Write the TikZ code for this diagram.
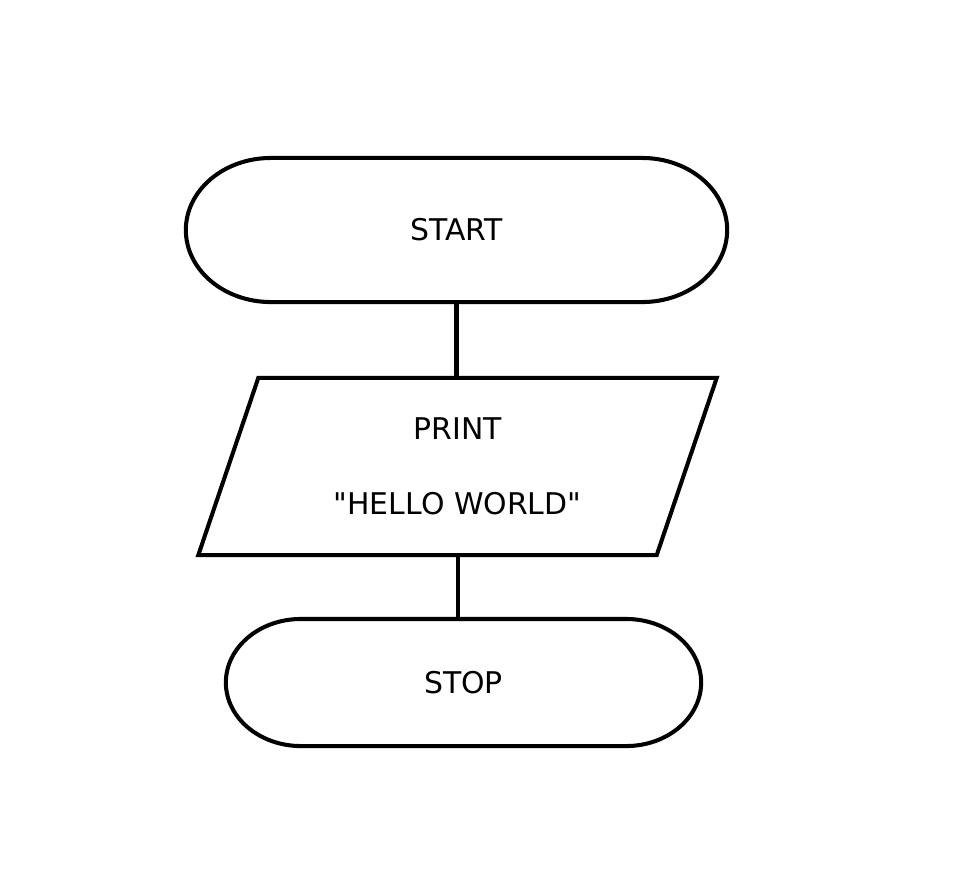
\documentclass[tikz,border=0pt]{standalone}
\usepackage{fontspec}
\setmainfont{DejaVu Sans}
\usepackage{tikz}
\usetikzlibrary{positioning,shapes.misc,shapes.geometric}

\begin{document}
\begin{tikzpicture}[x = 0.01cm, y = -0.01cm, line width = 1.15pt,
  term/.style = {rectangle, inner sep = 0pt, outer sep = 0pt, font = \fontsize{8.5}{10}\selectfont},
  io/.style = {draw, trapezium, trapezium left angle = 69, trapezium right angle = 111,
    trapezium stretches = true, inner sep = 0pt, align = center}]
\useasboundingbox (0, 0) rectangle (964, 881);
\node[term, minimum width = 5.41cm, minimum height = 1.44cm] (start) at (456.5, 230) {START};
\node[io, minimum width = 5.19cm, minimum height = 1.77cm, font = \fontsize{8.5}{21.3}\selectfont] (print) at (457.5, 466.5) {PRINT\\ \textquotedbl HELLO WORLD\textquotedbl};
\node[term, minimum width = 4.75cm, minimum height = 1.27cm] (stop) at (463.5, 682.5) {STOP};

% terminal outlines with elliptic ends
\foreach \n/\rx/\ry in {start/0.85cm/0.72cm, stop/0.75cm/0.635cm}
  \draw ([xshift = \rx]\n.north west) -- ([xshift = -\rx]\n.north east)
    arc[start angle = 90, end angle = -90, x radius = \rx, y radius = \ry]
    -- ([xshift = \rx]\n.south west)
    arc[start angle = 270, end angle = 90, x radius = \rx, y radius = \ry] -- cycle;

\draw (start.south) -- (print.north -| start.south);
\draw (print.south) -- (stop.north -| print.south);

\end{tikzpicture}
\end{document}
